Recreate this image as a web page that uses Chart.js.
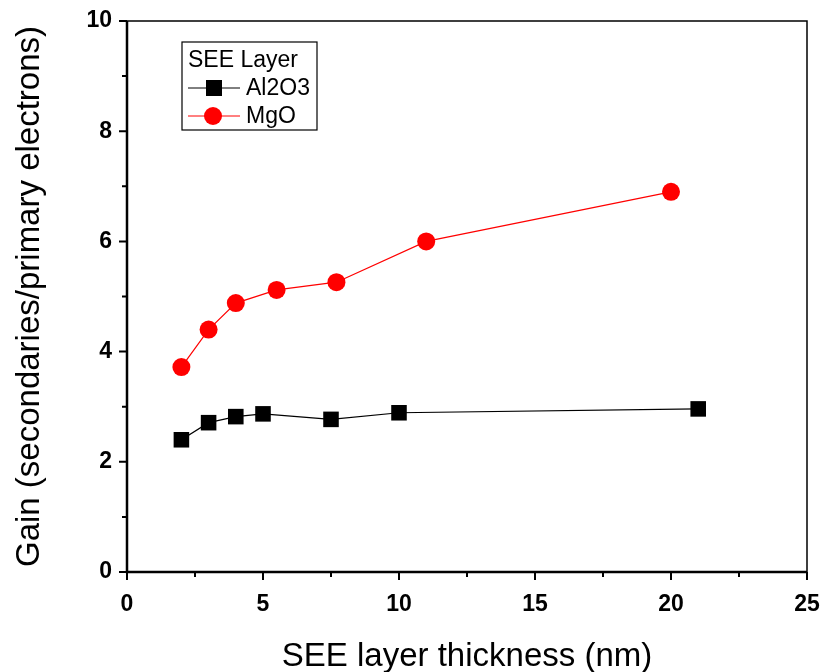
<!DOCTYPE html>
<html>
<head>
<meta charset="utf-8">
<script src="https://cdn.jsdelivr.net/npm/chart.js@4.4.1/dist/chart.umd.min.js"></script>
<style>
  html, body { margin: 0; padding: 0; background: #fff; }
  #wrap { width: 823px; height: 672px; }
</style>
</head>
<body>
<div id="wrap"><canvas id="gainChart" width="823" height="672"></canvas></div>
<script>
// thickness (nm) and gain
const al2o3X = [2, 3, 4, 5, 7.5, 10, 21];
const al2o3Y = [2.40, 2.71, 2.82, 2.87, 2.77, 2.89, 2.96];
const mgoX = [2, 3, 4, 5.5, 7.7, 11, 20];
const mgoY = [3.72, 4.40, 4.88, 5.12, 5.26, 6.00, 6.90];

const xTicks = [0, 5, 10, 15, 20, 25];
const yTicks = [0, 2, 4, 6, 8, 10];
const xMinor = [2.5, 7.5, 12.5, 17.5, 22.5];
const yMinor = [1, 3, 5, 7, 9];

const seriesNames = ['Al2O3', 'MgO'];
const legendTitle = 'SEE Layer';

const pts = (xs, ys) => xs.map((x, i) => ({ x: x, y: ys[i] }));

// axis frame, ticks and the boxed legend (Origin style)
const framePlugin = {
  id: 'frame',
  afterDraw(chart) {
    const c = chart.ctx;
    const a = chart.chartArea;
    const xs = chart.scales.x, ys = chart.scales.y;
    c.save();
    c.strokeStyle = '#000';

    c.lineWidth = 1.5;
    c.beginPath();
    c.moveTo(a.left, a.top); c.lineTo(a.right, a.top); c.lineTo(a.right, a.bottom);
    c.stroke();

    c.lineWidth = 2.5;
    c.beginPath();
    c.moveTo(a.left, a.top); c.lineTo(a.left, a.bottom); c.lineTo(a.right, a.bottom);
    c.stroke();

    c.lineWidth = 2;
    c.beginPath();
    xTicks.forEach(v => { const p = xs.getPixelForValue(v); c.moveTo(p, a.bottom); c.lineTo(p, a.bottom + 8); });
    xMinor.forEach(v => { const p = xs.getPixelForValue(v); c.moveTo(p, a.bottom); c.lineTo(p, a.bottom + 5); });
    yTicks.forEach(v => { const p = ys.getPixelForValue(v); c.moveTo(a.left, p); c.lineTo(a.left - 8, p); });
    yMinor.forEach(v => { const p = ys.getPixelForValue(v); c.moveTo(a.left, p); c.lineTo(a.left - 5, p); });
    c.stroke();

    // legend
    const bx = 182, by = 42, bw = 135, bh = 88;
    c.lineWidth = 1.2;
    c.strokeStyle = '#000';
    c.strokeRect(bx, by, bw, bh);
    c.fillStyle = '#000';
    c.font = '23px "Liberation Sans", Arial, sans-serif';
    c.textBaseline = 'middle';
    c.fillText(legendTitle, bx + 6, by + 19);
    chart.data.datasets.forEach((ds, i) => {
      const ry = by + 46 + i * 28;
      c.strokeStyle = ds.borderColor;
      c.lineWidth = 1;
      c.beginPath(); c.moveTo(bx + 6, ry); c.lineTo(bx + 58, ry); c.stroke();
      c.fillStyle = ds.pointBackgroundColor;
      if (ds.pointStyle === 'rect') {
        c.fillRect(bx + 24, ry - 8, 16, 16);
      } else {
        c.beginPath(); c.arc(bx + 31, ry, 9, 0, Math.PI * 2); c.fill();
      }
      c.fillStyle = '#000';
      c.fillText(ds.label, bx + 64, ry + 1);
    });
    c.restore();
  }
};

const tickFont = { family: '"Liberation Sans", Arial, sans-serif', size: 23, weight: 'bold' };
const titleFont = { family: '"Liberation Sans", Arial, sans-serif', size: 33 };

const ctx = document.getElementById('gainChart').getContext('2d');
new Chart(ctx, {
  type: 'scatter',
  data: {
    datasets: [{
      label: seriesNames[0],
      data: pts(al2o3X, al2o3Y),
      showLine: true,
      borderColor: '#000',
      borderWidth: 1.2,
      pointStyle: 'rect',
      pointRadius: 11,
      pointBackgroundColor: '#000',
      pointBorderWidth: 0
    }, {
      label: seriesNames[1],
      data: pts(mgoX, mgoY),
      showLine: true,
      borderColor: '#ff0000',
      borderWidth: 1.2,
      pointStyle: 'circle',
      pointRadius: 9,
      pointBackgroundColor: '#ff0000',
      pointBorderWidth: 0
    }]
  },
  options: {
    responsive: false,
    animation: false,
    layout: { padding: { top: 21, right: 16, left: 0, bottom: 0 } },
    plugins: { legend: { display: false }, tooltip: { enabled: false } },
    scales: {
      x: {
        type: 'linear', min: 0, max: 25,
        afterBuildTicks: s => { s.ticks = xTicks.map(v => ({ value: v })); },
        ticks: { color: '#000', font: tickFont, padding: 19, maxRotation: 0 },
        grid: { display: false, drawTicks: false },
        border: { display: false },
        title: { display: true, text: 'SEE layer thickness (nm)', color: '#000', font: titleFont, padding: { top: 0, bottom: -5 } },
        afterFit: s => { s.height = 100; s.paddingLeft = 0; s.paddingRight = 0; }
      },
      y: {
        type: 'linear', min: 0, max: 10,
        afterBuildTicks: s => { s.ticks = yTicks.map(v => ({ value: v })); },
        ticks: { color: '#000', font: tickFont, padding: 15 },
        grid: { display: false, drawTicks: false },
        border: { display: false },
        title: { display: true, text: 'Gain (secondaries/primary electrons)', color: '#000', font: titleFont, padding: { top: 10, bottom: 0 } },
        afterFit: s => { s.width = 127; s.paddingTop = 0; s.paddingBottom = 0; }
      }
    }
  },
  plugins: [framePlugin]
});
</script>
</body>
</html>
